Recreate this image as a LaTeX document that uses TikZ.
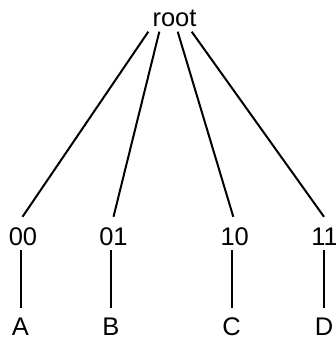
\documentclass[tikz,border=0pt]{standalone}
\usepackage{fontspec}
\setmainfont{Liberation Sans}
\begin{document}
\begin{tikzpicture}[x=1pt,y=-1pt,
  lbl/.style={font=\fontsize{25.5}{30}\selectfont, text height=18.3pt, text depth=0pt,
    inner xsep=0pt, inner ysep=0pt, anchor=base},
  edge/.style={line width=2pt}]
\useasboundingbox (0,0) rectangle (336,339);
\node[lbl] (r) at (174.5,26.7) {root};
\node[lbl] (c00) at (23,245) {00};
\node[lbl] (c01) at (113.5,245) {01};
\node[lbl] (c10) at (234.7,245) {10};
\node[lbl] (c11) at (324.5,245) {11};
\node[lbl] (a) at (20.5,335) {A};
\node[lbl] (b) at (111,335) {B};
\node[lbl] (c) at (231.5,335) {C};
\node[lbl] (d) at (324,335) {D};
\draw[edge] ([xshift=-26.2pt,yshift=-4.8pt]r.south) -- ([xshift=-0.5pt,yshift=9.7pt]c00.north);
\draw[edge] ([xshift=-15.2pt,yshift=-4.8pt]r.south) -- ([yshift=9.7pt]c01.north);
\draw[edge] ([xshift=3.2pt,yshift=-4.8pt]r.south) -- ([xshift=-1.4pt,yshift=9.7pt]c10.north);
\draw[edge] ([xshift=17.2pt,yshift=-4.8pt]r.south) -- ([xshift=-0.5pt,yshift=9.7pt]c11.north);
\draw[edge] ([yshift=-5pt]a.north |- c00.south) -- ([yshift=9pt]a.north);
\draw[edge] ([yshift=-5pt]b.north |- c01.south) -- ([yshift=9pt]b.north);
\draw[edge] ([yshift=-5pt]c.north |- c10.south) -- ([yshift=9pt]c.north);
\draw[edge] ([yshift=-5pt]d.north |- c11.south) -- ([yshift=9pt]d.north);
\end{tikzpicture}
\end{document}
